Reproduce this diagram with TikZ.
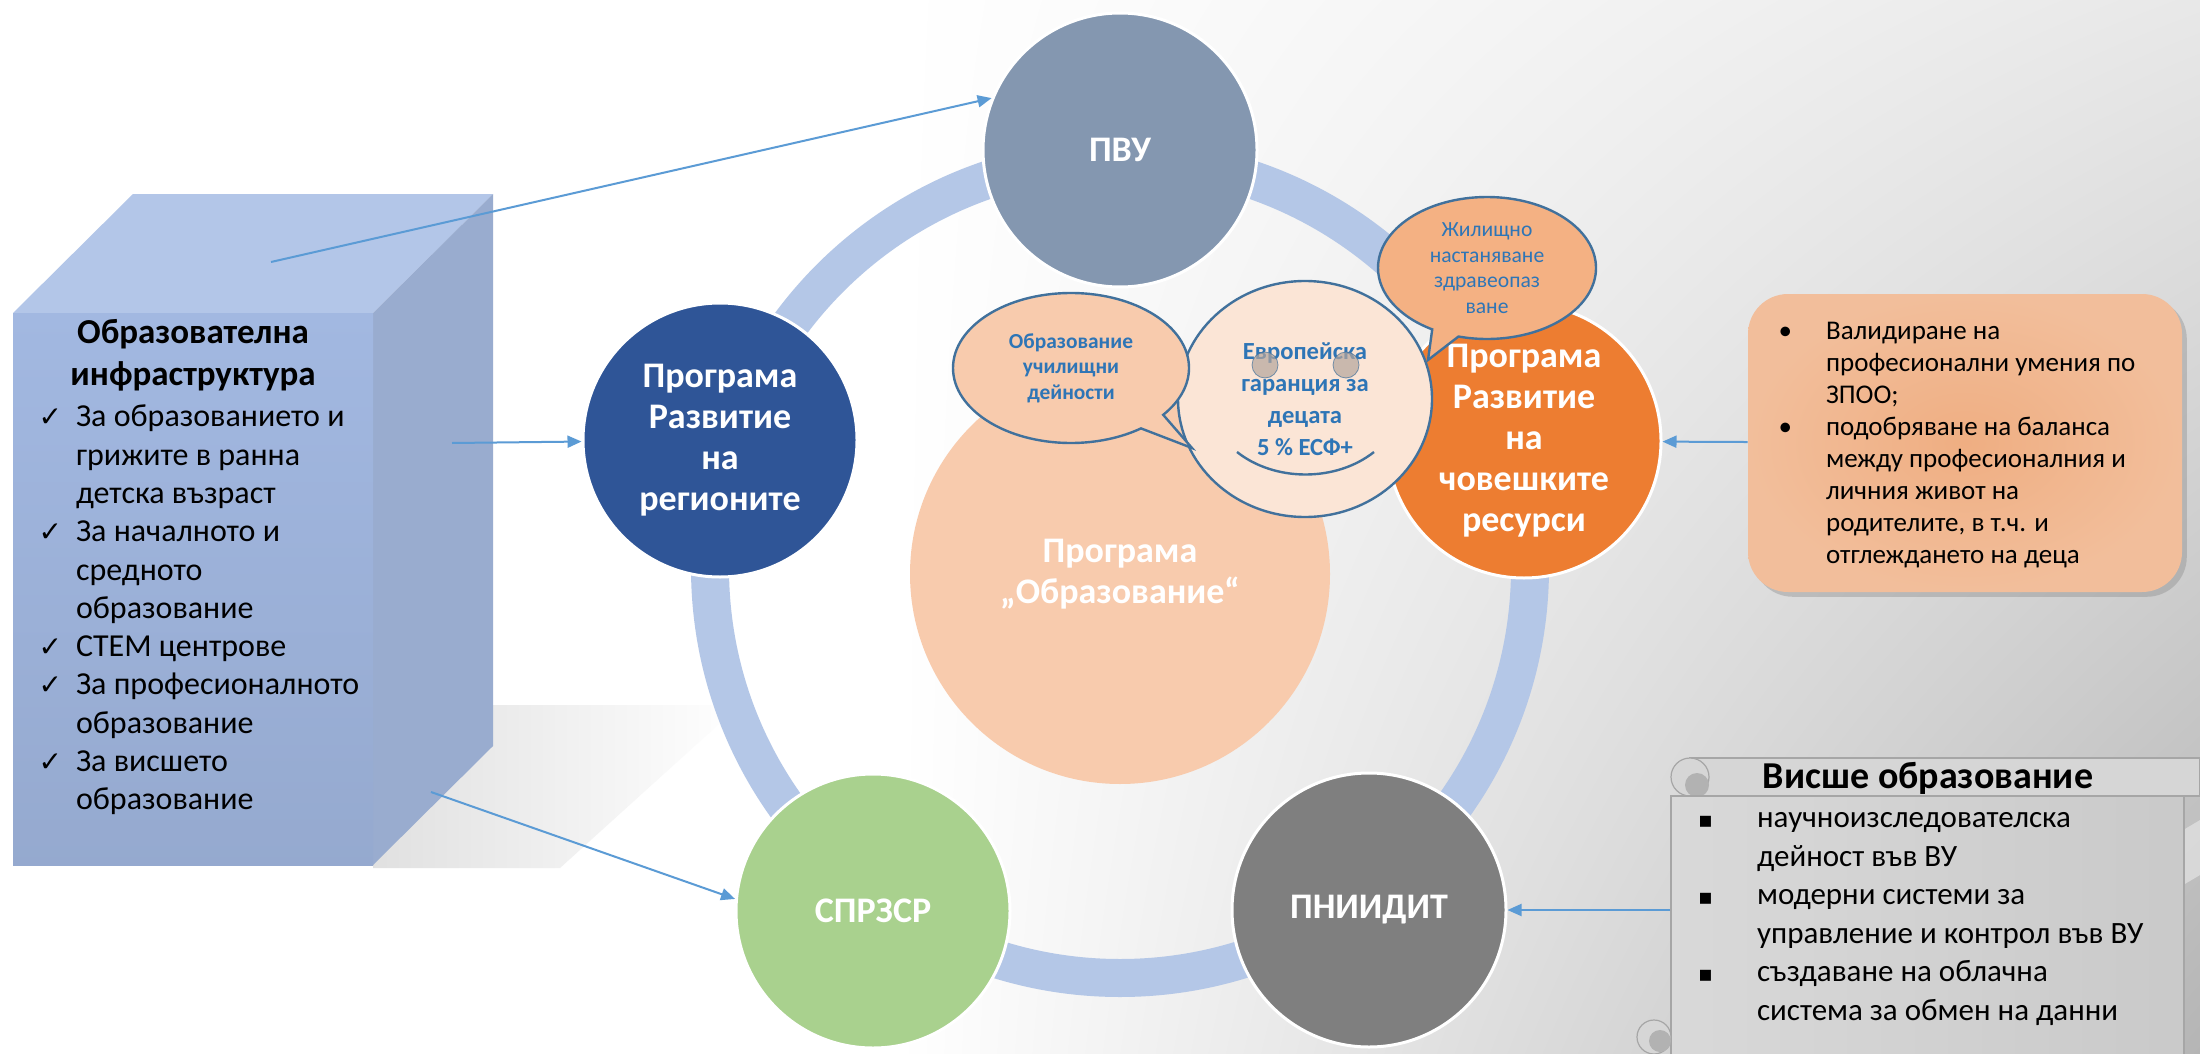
\documentclass[tikz,border=0pt]{standalone}
\usepackage{fontspec}
\setmainfont{Carlito}
\newfontfamily\symfont{DejaVu Sans}
\usetikzlibrary{arrows.meta,shapes.geometric,shapes.callouts,shadows,shadings}
\definecolor{ringblue}{HTML}{B4C7E7}
\definecolor{pvucol}{HTML}{8497B0}
\definecolor{regcol}{HTML}{2F5597}
\definecolor{chrcol}{HTML}{ED7D31}
\definecolor{sprcol}{HTML}{A9D18E}
\definecolor{pniicol}{HTML}{7F7F7F}
\definecolor{educol}{HTML}{F8CBAD}
\definecolor{eurcol}{HTML}{FBE5D6}
\definecolor{housecol}{HTML}{F4B183}
\definecolor{bubbleline}{HTML}{41719C}
\definecolor{bubbletext}{HTML}{2E75B6}
\definecolor{eyecol}{HTML}{B5A59C}
\definecolor{arrowblue}{HTML}{5B9BD5}
\definecolor{cubefront}{HTML}{A2B8E1}
\definecolor{cubetop}{HTML}{B3C6E8}
\definecolor{cubeside}{HTML}{99ACCF}
\definecolor{validcol}{HTML}{EFAE82}
\newcommand\chkmark{\llap{{\symfont\fontsize{14}{14}\selectfont ✓}\hspace{7pt}}}
\newcommand\dotmark{\llap{•\hspace{17pt}}}
\newcommand\sqmark{\llap{{\symfont\fontsize{11}{11}\selectfont ▪}\hspace{22pt}}}
\begin{document}
\begin{tikzpicture}[x=0.5pt,y=-0.5pt,
    prog/.style={circle,draw=white,line width=1.5pt,text=white,align=center,
      font=\fontsize{18}{20.5}\selectfont\bfseries,minimum size=137pt,inner sep=0pt},
    bubble/.style={draw=bubbleline,line width=1.2pt,text=bubbletext,align=center,inner sep=0pt},
    link/.style={draw=arrowblue,line width=1pt,-{Triangle[length=7pt,width=6pt]}},
    scrollpart/.style={fill=gray!32,draw=gray!70,line width=0.6pt}]
    \useasboundingbox (0,0) rectangle (2200,1054);
    \fill[white] (0,0) rectangle (2200,1054);
    \shade[upper left=white, lower left=white, upper right=gray!18, lower right=gray!58]
      (900,0) rectangle (2200,1054);
    \fill[white, opacity=0.4] (1760,1054) .. controls (1950,960) and (2100,880) .. (2200,820)
      -- (2200,875) .. controls (2100,935) and (1980,990) .. (1860,1054) -- cycle;
    \shade[left color=gray!24, right color=white] (373,705) -- (740,705) -- (560,868) -- (373,868) -- cycle;

    \fill[cubetop] (13,313) -- (133,194) -- (493,194) -- (373,313) -- cycle;
    \fill[cubeside] (373,313) -- (493,194) -- (493,746) -- (373,865) -- cycle;
    \shade[top color=cubefront, bottom color=cubefront!92!black] (13,313) rectangle (373,865);
    \coordinate (cubetopc) at (271,262);
    \coordinate (cubemid) at (452,443);
    \coordinate (cubelow) at (431,792);
    \node[font=\fontsize{17.5}{21}\selectfont\bfseries, align=center] (infratitle) at (193,355)
      {Образователна\\инфраструктура};
    \node[anchor=west, align=left, font=\fontsize{16}{19.15}\selectfont] (infralist) at (69,610)
      {\chkmark За образованието и\\грижите в ранна\\детска възраст\\\chkmark За началното и\\средното\\образование\\\chkmark СТЕМ центрове\\\chkmark За професионалното\\образование\\\chkmark За висшето\\образование};

    \draw[ringblue, line width=19pt] (1120,568) circle (410);
    \node[prog, fill=pvucol] (pvu) at (1120,150) {ПВУ};
    \node[prog, fill=regcol] (reg) at (720,440) {Програма\\Развитие\\на\\регионите};
    \node[prog, fill=chrcol] (chr) at (1524,441) {Програма\\Развитие\\на\\човешките\\ресурси};
    \node[prog, fill=sprcol] (spr) at (873,911) {СПРЗСР};
    \node[prog, fill=pniicol] (pnii) at (1369,910) {ПНИИДИТ};
    \node[prog, fill=educol, draw=none, minimum size=210pt] (edu) at (1120,574) {Програма\\„Образование“};

    \node[bubble, ellipse, fill=eurcol, minimum width=127pt, minimum height=118pt,
      font=\fontsize{12.3}{16}\selectfont\bfseries] (eur) at (1305,399)
      {Европейска\\гаранция за\\децата\\5 \% ЕСФ+};
    \filldraw[fill=eyecol, draw=bubbleline, opacity=0.7] (1265,365) circle (13);
    \filldraw[fill=eyecol, draw=bubbleline, opacity=0.7] (1346,365) circle (13);
    \draw[bubbleline, line width=1.2pt] (1237,452) .. controls (1275,482) and (1336,482) .. (1374,452);
    \node[bubble, ellipse callout, fill=educol, minimum width=118pt, minimum height=75pt,
      callout absolute pointer={(1192,448)}, font=\fontsize{10.7}{12.8}\selectfont\bfseries]
      (school) at (1071,368) {Образование\\училищни\\дейности};
    \node[bubble, ellipse callout, fill=housecol, minimum width=109pt, minimum height=71pt,
      callout absolute pointer={(1428,360)}, font=\fontsize{10.8}{12.8}\selectfont]
      (house) at (1487,268) {Жилищно\\настаняване\\здравеопаз\\ване};

    \node[inner color=validcol, outer color=validcol!80!white, rounded corners=20pt,
      minimum width=217pt, minimum height=149pt, drop shadow={opacity=0.35}] (valid) at (1965,443) {};
    \node[anchor=west, align=left, font=\fontsize{13.5}{16}\selectfont] (validtxt) at (1819,445)
      {\dotmark Валидиране на\\професионални умения по\\ЗПОО;\\\dotmark подобряване на баланса\\между професионалния и\\личния живот на\\родителите, в т.ч. и\\отглеждането на деца};

    \filldraw[scrollpart] (1690,758) rectangle (2200,796);
    \filldraw[scrollpart] (1690,777) circle (19);
    \fill[gray!60] (1697,785) circle (12);
    \node[draw=gray!70, line width=0.6pt, left color=gray!30, right color=gray!42,
      minimum width=256.5pt, minimum height=132pt, inner sep=0pt] (higher) at (1927.5,928) {};
    \filldraw[scrollpart] (1654,1037) circle (17);
    \fill[gray!60] (1660,1041) circle (11);
    \node[font=\fontsize{19}{22}\selectfont\bfseries] (highertitle) at (1928,778) {Висше образование};
    \node[anchor=west, align=left, font=\fontsize{15.5}{19.25}\selectfont] (higherlist) at (1750,919)
      {\sqmark научноизследователска\\дейност във ВУ\\\sqmark модерни системи за\\управление и контрол във ВУ\\\sqmark създаване на облачна\\система за обмен на данни};

    \draw[link] (cubetopc) -- (pvu.158);
    \draw[link] (cubemid) -- (reg);
    \draw[link] (cubelow) -- (spr.175);
    \draw[link] (valid) -- (chr);
    \draw[link] (higher.west |- pnii) -- (pnii);
\end{tikzpicture}
\end{document}
